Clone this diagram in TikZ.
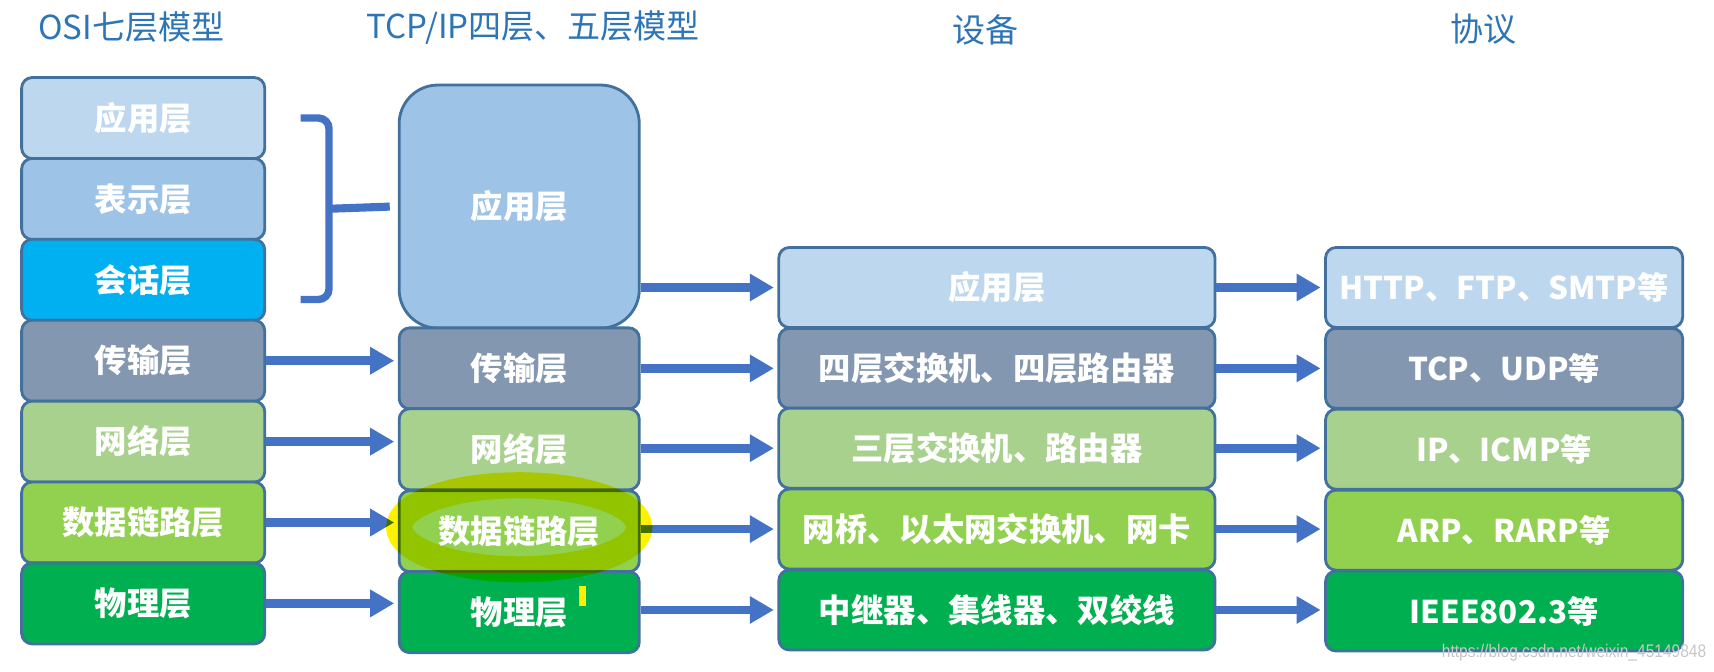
\documentclass[tikz,border=0pt]{standalone}
\usepackage{fontspec}
\setmainfont{Noto Sans CJK SC}
\newfontfamily\urlfont{Liberation Sans}
\usetikzlibrary{arrows.meta}

\definecolor{titleblue}{RGB}{46,117,182}
\definecolor{arrowblue}{RGB}{68,114,196}
\definecolor{boxline}{RGB}{65,113,156}
\definecolor{appA}{RGB}{189,215,238}
\definecolor{appB}{RGB}{157,195,230}
\definecolor{sessC}{RGB}{0,176,240}
\definecolor{transC}{RGB}{132,151,176}
\definecolor{netC}{RGB}{169,209,142}
\definecolor{linkC}{RGB}{146,208,80}
\definecolor{physC}{RGB}{0,176,80}

\tikzset{
  layer/.style={draw=boxline, line width=0.8pt, rounded corners=3pt, inner sep=0pt,
    text=white, font=\bfseries\fontsize{9.2}{11}\selectfont},
  osi/.style={layer, minimum width=2.43cm, minimum height=0.81cm},
  tcpip/.style={layer, minimum width=2.40cm, minimum height=0.81cm},
  dev/.style={layer, minimum width=4.36cm, minimum height=0.80cm},
  proto/.style={layer, minimum width=3.57cm, minimum height=0.80cm,
    font=\bfseries\fontsize{8.9}{11}\selectfont},
  title/.style={text=titleblue, font=\fontsize{9.4}{11}\selectfont},
  flow/.style={arrowblue, line width=2.5pt, -{Triangle[length=0.24cm,width=0.26cm]}, shorten >=1pt}
}

\begin{document}
\begin{tikzpicture}[x=0.010931cm, y=-0.010931cm]
  \useasboundingbox (0,0) rectangle (1568,614);

  % titles
  \node[title] (tOsi)   at (120,25) {OSI七层模型};
  \node[title] (tTcp)   at (488,25) {TCP/IP四层、五层模型};
  \node[title] (tDev)   at (902,27) {设备};
  \node[title] (tProto) at (1357,27) {协议};

  % OSI column
  \node[osi, fill=appA]   (osiApp)   at (131,108) {应用层};
  \node[osi, fill=appB]   (osiPres)  at (131,182) {表示层};
  \node[osi, fill=sessC]  (osiSess)  at (131,256) {会话层};
  \node[osi, fill=transC] (osiTrans) at (131,330) {传输层};
  \node[osi, fill=netC]   (osiNet)   at (131,404) {网络层};
  \node[osi, fill=linkC]  (osiLink)  at (131,478) {数据链路层};
  \node[osi, fill=physC]  (osiPhys)  at (131,552) {物理层};

  % TCP/IP column
  \node[tcpip, fill=appB, minimum height=2.43cm, rounded corners=11pt] (tcpApp) at (475,189) {应用层};
  \node[tcpip, fill=transC] (tcpTrans) at (475,337) {传输层};
  \node[tcpip, fill=netC]   (tcpNet)   at (475,411) {网络层};
  \node[tcpip, fill=linkC]  (tcpLink)  at (475,486) {数据链路层};
  \node[tcpip, fill=physC]  (tcpPhys)  at (475,560) {物理层};

  % devices
  \node[dev, fill=appA]   (devApp)   at (912,263) {应用层};
  \node[dev, fill=transC] (devTrans) at (912,337) {四层交换机、四层路由器};
  \node[dev, fill=netC]   (devNet)   at (912,410) {三层交换机、路由器};
  \node[dev, fill=linkC]  (devLink)  at (912,484) {网桥、以太网交换机、网卡};
  \node[dev, fill=physC]  (devPhys)  at (912,558) {中继器、集线器、双绞线};

  % protocols
  \node[proto, fill=appA]   (proApp)   at (1376,263) {HTTP、FTP、SMTP等};
  \node[proto, fill=transC] (proTrans) at (1376,337) {TCP、UDP等};
  \node[proto, fill=netC]   (proNet)   at (1376,411) {IP、ICMP等};
  \node[proto, fill=linkC]  (proLink)  at (1376,485) {ARP、RARP等};
  \node[proto, fill=physC]  (proPhys)  at (1376,559) {IEEE802.3等};

  % brace
  \draw[arrowblue, line width=2.1pt, rounded corners=3pt] (275,108) -| (301,274) -- (275,274);
  \draw[arrowblue, line width=2.3pt] (301,191) -- ([xshift=-0.08cm]tcpApp.west);

  % arrows
  \path[flow] (osiTrans.east) edge (osiTrans.east -| tcpTrans.west);
  \path[flow] (osiNet.east)   edge (osiNet.east -| tcpNet.west);
  \path[flow] (osiLink.east)  edge (osiLink.east -| tcpLink.west);
  \path[flow] (osiPhys.east)  edge (osiPhys.east -| tcpPhys.west);
  \path[flow] (devApp.west -| tcpApp.east)     edge (devApp.west);
  \path[flow] (devTrans.west -| tcpTrans.east) edge (devTrans.west);
  \path[flow] (devNet.west -| tcpNet.east)     edge (devNet.west);
  \path[flow] (devLink.west -| tcpLink.east)   edge (devLink.west);
  \path[flow] (devPhys.west -| tcpPhys.east)   edge (devPhys.west);
  \path[flow] (devApp.east)   edge (devApp.east -| proApp.west);
  \path[flow] (devTrans.east) edge (devTrans.east -| proTrans.west);
  \path[flow] (devNet.east)   edge (devNet.east -| proNet.west);
  \path[flow] (devLink.east)  edge (devLink.east -| proLink.west);
  \path[flow] (devPhys.east)  edge (devPhys.east -| proPhys.west);

  % highlighter marks
  \begin{scope}[blend mode=multiply]
    \draw[yellow, line width=0.26cm] ([yshift=0.04cm]tcpLink.center) ellipse [x radius=1.20cm, y radius=0.42cm];
  \end{scope}
  \draw[yellow, fill=yellow, line width=0.3pt] (530,537) rectangle (536,554);

  % watermark
  \node[text=black!22, font=\urlfont\fontsize{5.2}{6}\selectfont, xscale=0.85] (mark) at (1440,597) {https://blog.csdn.net/weixin\_45149848};
\end{tikzpicture}
\end{document}
